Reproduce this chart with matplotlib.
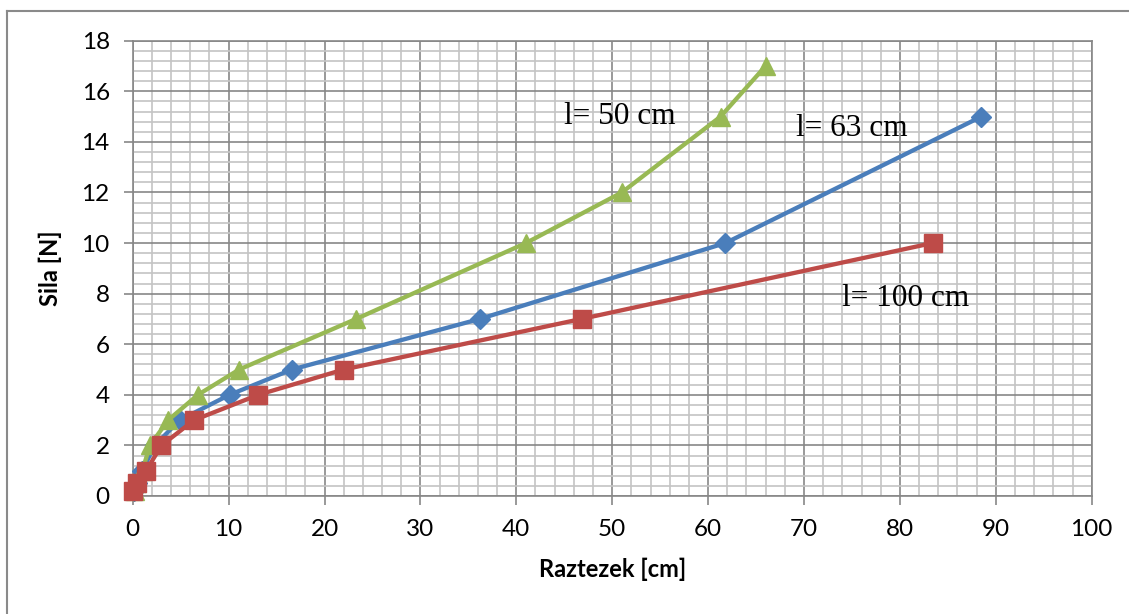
import matplotlib
matplotlib.use("Agg")
import matplotlib.pyplot as plt
from matplotlib.ticker import MultipleLocator
from matplotlib.lines import Line2D

# Data
x_50 = [0.2, 0.5, 1.0, 1.8, 3.7, 6.8, 11.1, 23.3, 41.0, 51.0, 61.3, 66.0]
y_50 = [0.2, 0.5, 1, 2, 3, 4, 5, 7, 10, 12, 15, 17]
x_63 = [0.1, 0.4, 1.0, 2.3, 4.9, 10.1, 16.6, 36.2, 61.8, 88.5]
y_63 = [0.2, 0.5, 1, 2, 3, 4, 5, 7, 10, 15]
x_100 = [0.05, 0.5, 1.4, 3.0, 6.4, 13.1, 22.0, 46.8, 83.4]
y_100 = [0.2, 0.5, 1, 2, 3, 4, 5, 7, 10]
labels = ["l= 50 cm", "l= 63 cm", "l= 100 cm"]
x_title = "Raztezek [cm]"
y_title = "Sila [N]"

BLUE = "#4A7EBB"
RED = "#BE4B48"
GREEN = "#98B954"

fig = plt.figure(figsize=(11.29, 6.14), dpi=100)
ax = fig.add_axes([132.7/1129, 1-496/614, (1091.7-132.7)/1129, (496-40.7)/614])

ax.set_xlim(0, 100)
ax.set_ylim(0, 18)
ax.xaxis.set_major_locator(MultipleLocator(10))
ax.xaxis.set_minor_locator(MultipleLocator(2))
ax.yaxis.set_major_locator(MultipleLocator(2))
ax.yaxis.set_minor_locator(MultipleLocator(0.4))

ax.grid(which="major", color="#878787", linewidth=1.2, zorder=0)
ax.grid(which="minor", color="#C4C4C4", linewidth=1.2, zorder=0)
ax.set_axisbelow(True)

for s in ["top", "right", "left", "bottom"]:
    ax.spines[s].set_color("#878787")
    ax.spines[s].set_linewidth(1.2)

ax.tick_params(which="major", direction="out", length=6.5, width=1.2, color="#878787",
               labelsize=17.5, pad=10)
ax.tick_params(which="minor", length=0)
for lab in ax.get_xticklabels() + ax.get_yticklabels():
    lab.set_family("Lato")

lw = 3.1
ax.plot(x_63, y_63, color=BLUE, lw=lw, marker="D", ms=10.5, mec=BLUE, clip_on=False, zorder=3)
ax.plot(x_100, y_100, color=RED, lw=lw, marker="s", ms=13.5, mec=RED, clip_on=False, zorder=4)
ax.plot(x_50, y_50, color=GREEN, lw=lw, marker="^", ms=13, mec=GREEN, clip_on=False, zorder=3)

ax.set_xlabel(x_title, family="Lato", fontweight="bold", fontsize=17, labelpad=13)
ax.set_ylabel(y_title, family="Lato", fontweight="bold", fontsize=17, labelpad=14)

ax.text(620/1129, 1-117/614, labels[0], transform=fig.transFigure, family="Liberation Serif",
        fontsize=22.5, ha="center", va="center")
ax.text(852/1129, 1-128/614, labels[1], transform=fig.transFigure, family="Liberation Serif",
        fontsize=22.5, ha="center", va="center")
ax.text(906/1129, 1-298/614, labels[2], transform=fig.transFigure, family="Liberation Serif",
        fontsize=22.5, ha="center", va="center")

# outer chart frame
fig.add_artist(Line2D([7/1129, 7/1129], [0, 1-11/614], transform=fig.transFigure,
                      color="#8A8A8A", lw=1.5))
fig.add_artist(Line2D([7/1129, 1], [1-11/614, 1-11/614], transform=fig.transFigure,
                      color="#8A8A8A", lw=1.5))

fig.savefig("out.png", dpi=100)
